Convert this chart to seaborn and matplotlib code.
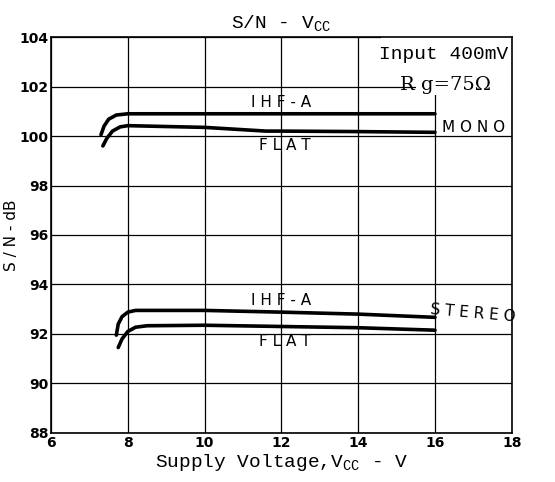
import matplotlib
matplotlib.use("Agg")
import matplotlib.pyplot as plt
from matplotlib.patches import Rectangle
import seaborn as sns
import pandas as pd

# Data
mono_ihf_x = [7.3, 7.38, 7.5, 7.7, 8.0, 10, 12, 14, 16]
mono_ihf_y = [100.05, 100.4, 100.68, 100.85, 100.9, 100.9, 100.9, 100.9, 100.9]
mono_flat_x = [7.35, 7.45, 7.6, 7.8, 8.0, 10, 11.6, 12, 14, 16]
mono_flat_y = [99.6, 99.9, 100.2, 100.37, 100.42, 100.35, 100.2, 100.2, 100.18, 100.15]
st_ihf_x = [7.7, 7.75, 7.85, 8.0, 8.2, 10, 12, 14, 16]
st_ihf_y = [91.95, 92.4, 92.7, 92.88, 92.95, 92.95, 92.88, 92.8, 92.67]
st_flat_x = [7.75, 7.85, 8.0, 8.2, 8.5, 10, 12, 14, 16]
st_flat_y = [91.45, 91.8, 92.1, 92.27, 92.33, 92.35, 92.3, 92.25, 92.15]

x_ticks = [6, 8, 10, 12, 14, 16, 18]
y_ticks = [88, 90, 92, 94, 96, 98, 100, 102, 104]

sns.set_theme(style="white")
plt.rcParams['font.family'] = ['DejaVu Sans']
plt.rcParams['text.color'] = 'black'
plt.rcParams['axes.labelcolor'] = 'black'
plt.rcParams['xtick.color'] = 'black'
plt.rcParams['ytick.color'] = 'black'

series = [
    ("mono IHF-A", mono_ihf_x, mono_ihf_y),
    ("mono FLAT", mono_flat_x, mono_flat_y),
    ("stereo IHF-A", st_ihf_x, st_ihf_y),
    ("stereo FLAT", st_flat_x, st_flat_y),
]
df = pd.concat([pd.DataFrame({"V": x, "SN": y, "s": name}) for name, x, y in series])

fig = plt.figure(figsize=(5.55, 4.82), dpi=100)
ax = fig.add_axes([0.092, 0.102, 0.83, 0.821])

sns.lineplot(data=df, x="V", y="SN", units="s", estimator=None, sort=False,
             color="black", lw=2.6, ax=ax, legend=False, zorder=3)

ax.set_xlim(6, 18)
ax.set_ylim(88, 104)
ax.set_xticks(x_ticks)
ax.set_yticks(y_ticks)
ax.grid(True, color="black", lw=0.9)
for s in ax.spines.values():
    s.set_color("black")
    s.set_linewidth(1.2)
    s.set_zorder(5)
ax.tick_params(axis="both", length=0, pad=2, labelsize=10)
for lab in ax.get_xticklabels() + ax.get_yticklabels():
    lab.set_fontweight("bold")
    lab.set_color("black")

mono = ['Liberation Mono', 'DejaVu Sans Mono']
ax.set_title("S/N - V$_{\\mathregular{CC}}$", family=mono, fontsize=14, pad=6, color="black")
ax.set_xlabel("Supply Voltage,V$_{\\mathregular{CC}}$ - V", family=mono, fontsize=14, labelpad=2)
ax.set_ylabel("S / N - dB", family=['DejaVu Sans'], fontsize=11, labelpad=0)

# white area behind the condition notes (covers the grid there)
ax.add_patch(Rectangle((15.5, 101.65), 2.5, 2.35, facecolor="white", edgecolor="none", zorder=2.5))
ax.add_patch(Rectangle((14.6, 102.6), 1.0, 1.4, facecolor="white", edgecolor="none", zorder=2.5))

tk = dict(family=['DejaVu Sans'], fontsize=11, ha="center", va="center", color="black")
ax.text(12, 101.35, "I H F - A", **tk)
ax.text(12.1, 99.6, "F L A T", **tk)
ax.text(17.0, 100.35, "M O N O", **tk)
ax.text(12, 93.35, "I H F - A", **tk)
ax.text(12.1, 91.7, "F L A T", **tk)
ax.text(17.0, 92.85, "S T E R E O", rotation=-5, **tk)

ax.text(17.9, 103.3, "Input 400mV", family=mono, fontsize=14, ha="right", va="center", zorder=4)
ax.text(17.45, 102.05, "R g=75Ω", family=['DejaVu Serif'], fontsize=14, ha="right", va="center", zorder=4)

fig.savefig("out.png", dpi=100)
